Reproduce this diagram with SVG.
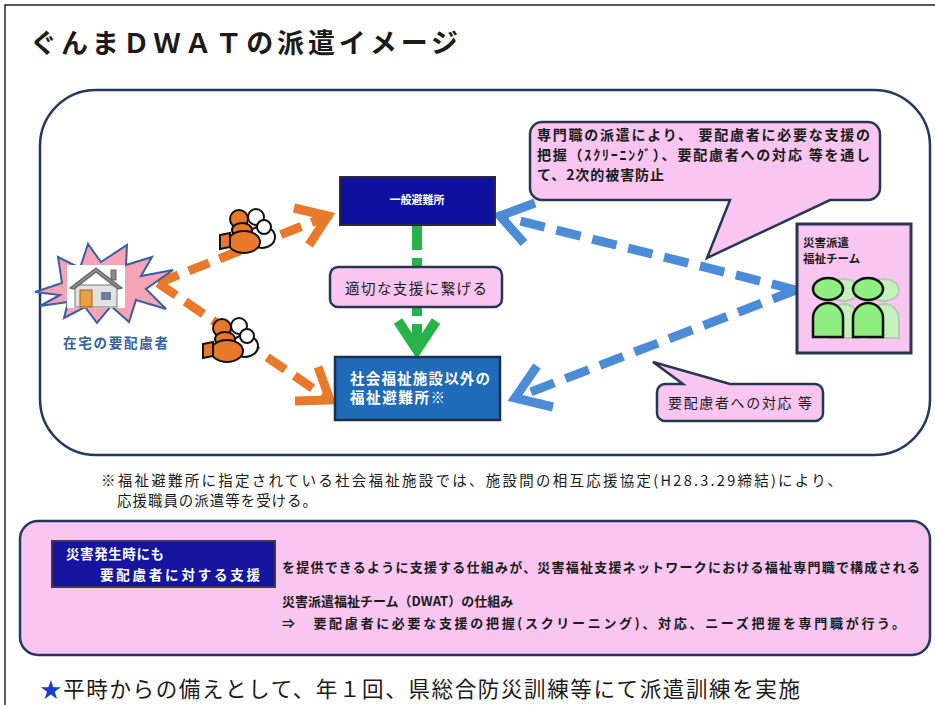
<svg xmlns="http://www.w3.org/2000/svg" width="935" height="705" viewBox="0 0 935 705">
  <style>
    .jp { font-family: "Noto Sans CJK JP", "Noto Sans", sans-serif; }
    .b { font-weight: bold; }
    .wt { fill: #ffffff; }
    .dk { fill: #1a1a1a; }
    .pink { fill: #f9c6f1; stroke: #26374f; stroke-width: 2.5; }
    .orange-dash { fill: none; stroke: #e8782a; stroke-width: 9; stroke-dasharray: 22 11; }
    .orange-head { fill: none; stroke: #e8782a; stroke-width: 9; stroke-linejoin: miter; }
    .blue-dash { fill: none; stroke: #4c8bd6; stroke-width: 9; stroke-dasharray: 25 12; }
    .blue-head { fill: none; stroke: #4c8bd6; stroke-width: 9; stroke-linejoin: miter; }
    .green-dash { fill: none; stroke: #27b24a; stroke-width: 10; stroke-dasharray: 25 8; }
    .green-head { fill: none; stroke: #27b24a; stroke-width: 10; stroke-linejoin: miter; }
    .p-or { fill: #e8782a; stroke: #111; stroke-width: 2; }
    .p-wh { fill: #ffffff; stroke: #111; stroke-width: 2; }
    .g-front { fill: #90ee80; stroke: #111; stroke-width: 2.5; }
    .g-back { fill: #c4f2bc; stroke: #b9c8b5; stroke-width: 2; }
  </style>
  <defs>
    <!-- small cluster of helpers heading to the shelters -->
    <g id="helpers">
      <circle cx="13" cy="-15" r="8" class="p-wh"/>
      <ellipse cx="19" cy="5" rx="13" ry="11" class="p-wh"/>
      <circle cx="21" cy="-5" r="7" class="p-wh"/>
      <circle cx="-4" cy="-13" r="9" class="p-or"/>
      <ellipse cx="-1" cy="-2" rx="10" ry="7" class="p-or"/>
      <ellipse cx="1" cy="10" rx="16" ry="11" class="p-or"/>
      <polygon points="-23,3 -13,1 -13,15 -23,17" class="p-or"/>
    </g>
    <!-- one standing team member -->
    <g id="member">
      <ellipse cx="0" cy="0" rx="15" ry="11"/>
      <path d="M-15,48 V29 A15,15 0 0 1 15,29 V48 Z"/>
    </g>
  </defs>

  <rect x="0" y="0" width="935" height="705" fill="#ffffff"/>
  <!-- page frame -->
  <rect x="5" y="5" width="945" height="720" fill="none" stroke="#222" stroke-width="1.5"/>

  <!-- title -->
  <text x="30" y="53" class="jp b dk" font-size="27" textLength="428" lengthAdjust="spacing">ぐんまＤＷＡＴの派遣イメージ</text>

  <!-- main area -->
  <rect x="40" y="90" width="890" height="365" rx="56" ry="56" fill="#ffffff" stroke="#23395d" stroke-width="2.5"/>

  <!-- connectors -->
  <g id="connectors">
    <!-- home to shelters -->
    <path d="M158,283 L328,216" class="orange-dash"/>
    <path d="M158,283 L330,400" class="orange-dash"/>
    <polyline points="294,208 328,216 309,245" class="orange-head"/>
    <polyline points="295,401 330,400 318,367" class="orange-head"/>
    <!-- general shelter to welfare shelter -->
    <path d="M417,225 L417,348" class="green-dash"/>
    <polyline points="398,321 417,350 436,321" class="green-head"/>
    <!-- team to shelters -->
    <path d="M796,290 L500,216" class="blue-dash"/>
    <path d="M796,290 L515,398" class="blue-dash"/>
    <polyline points="535,203 500,216 524,243" class="blue-head"/>
    <polyline points="537,366 515,398 553,407" class="blue-head"/>
  </g>

  <!-- home in need of support -->
  <g id="home">
    <polygon points="35,292 62,283 58,257 80,268 88,244 101,262 127,245 126,265 152,257 141,276 173,270 146,289 166,309 136,300 129,322 111,306 97,323 85,307 64,318 68,302 40,306 60,295" fill="#f6a5b6" stroke="#3a5fa0" stroke-width="2"/>
    <rect x="67" y="265" width="58" height="43" fill="#ffffff"/>
    <rect x="111" y="270" width="5" height="10" fill="#8a8a8a" stroke="#666" stroke-width="1"/>
    <rect x="75" y="285" width="42" height="22" fill="#e2e2e2" stroke="#8a8a8a" stroke-width="1.2"/>
    <polygon points="70,288 96,268 122,288 118,289 96,272 74,289" fill="#8a8a8a" stroke="#666" stroke-width="1.2"/>
    <rect x="80" y="290" width="12" height="17" fill="#e8a040" stroke="#a06020" stroke-width="1"/>
    <rect x="101" y="292" width="10" height="8" fill="#7080a0"/>
    <text x="63" y="348" class="jp b" font-size="13.5" fill="#355f9c" textLength="105" lengthAdjust="spacing">在宅の要配慮者</text>
  </g>

  <use href="#helpers" x="243" y="232"/>
  <use href="#helpers" x="226" y="341"/>

  <!-- general shelter -->
  <g id="general-shelter">
    <rect x="340" y="177" width="155" height="48" fill="#0f10a0" stroke="#2a2a3a" stroke-width="2"/>
    <text x="417" y="204" class="jp b wt" font-size="11" text-anchor="middle">一般避難所</text>
  </g>

  <!-- link label -->
  <g id="link-label">
    <rect x="330" y="267" width="172" height="40" rx="8" ry="8" class="pink"/>
    <text x="345" y="294" class="jp dk" font-size="14.5" textLength="142" lengthAdjust="spacing">適切な支援に繋げる</text>
  </g>

  <!-- welfare shelter -->
  <g id="welfare-shelter">
    <rect x="335" y="357" width="165" height="63" fill="#1f6bb8" stroke="#1d2f4a" stroke-width="2.5"/>
    <text x="350" y="384" class="jp b wt" font-size="14.5" textLength="140" lengthAdjust="spacing">社会福祉施設以外の</text>
    <text x="350" y="403" class="jp b wt" font-size="14.5" textLength="95" lengthAdjust="spacing">福祉避難所※</text>
  </g>

  <!-- callout: professional dispatch -->
  <g id="callout-dispatch">
    <path d="M542,122 H868 A12,12 0 0 1 880,134 V188 A12,12 0 0 1 868,200 H830 L707,258 L730,200 H542 A12,12 0 0 1 530,188 V134 A12,12 0 0 1 542,122 Z" class="pink"/>
    <text x="537" y="140" class="jp b dk" font-size="14" textLength="333" lengthAdjust="spacing">専門職の派遣により、 要配慮者に必要な支援の</text>
    <text x="537" y="160" class="jp b dk" font-size="14" textLength="333" lengthAdjust="spacing">把握（ｽｸﾘｰﾆﾝｸﾞ）、要配慮者への対応 等を通し</text>
    <text x="537" y="180" class="jp b dk" font-size="14" textLength="127" lengthAdjust="spacing">て、2次的被害防止</text>
  </g>

  <!-- disaster welfare team -->
  <g id="welfare-team">
    <rect x="797" y="224" width="114" height="129" fill="#f9c6f1" stroke="#26374f" stroke-width="3"/>
    <text x="803" y="247" class="jp b dk" font-size="11.5">災害派遣</text>
    <text x="803" y="263" class="jp b dk" font-size="11.5">福祉チーム</text>
    <use href="#member" x="844" y="290" class="g-back"/>
    <use href="#member" x="884" y="290" class="g-back"/>
    <use href="#member" x="828" y="289" class="g-front"/>
    <use href="#member" x="868" y="289" class="g-front"/>
  </g>

  <!-- callout: response -->
  <g id="callout-response">
    <path d="M665,384 H683 L653,362 L730,384 H815 A8,8 0 0 1 823,392 V413 A8,8 0 0 1 815,421 H665 A8,8 0 0 1 657,413 V392 A8,8 0 0 1 665,384 Z" class="pink"/>
    <text x="668" y="408" class="jp dk" font-size="14" textLength="144" lengthAdjust="spacing">要配慮者への対応 等</text>
  </g>

  <!-- footnote -->
  <text x="101" y="486" class="jp dk" font-size="14.5" textLength="741" lengthAdjust="spacing">※福祉避難所に指定されている社会福祉施設では、施設間の相互応援協定(H28.3.29締結)により、</text>
  <text x="117" y="506" class="jp dk" font-size="14.5" textLength="200" lengthAdjust="spacing">応援職員の派遣等を受ける。</text>

  <!-- support framework -->
  <g id="framework">
    <rect x="20" y="521" width="910" height="134" rx="18" ry="18" fill="#f9c6f1" stroke="#23395d" stroke-width="2.5"/>
    <rect x="52" y="541" width="223" height="46" fill="#1515a0" stroke="#3a3a4a" stroke-width="2"/>
    <text x="66" y="559" class="jp b wt" font-size="13.5" textLength="98" lengthAdjust="spacing">災害発生時にも</text>
    <text x="100" y="580" class="jp b wt" font-size="13.5" textLength="160" lengthAdjust="spacing">要配慮者に対する支援</text>
    <text x="282" y="572" class="jp b dk" font-size="13" textLength="638" lengthAdjust="spacing">を提供できるように支援する仕組みが、災害福祉支援ネットワークにおける福祉専門職で構成される</text>
    <text x="282" y="606" class="jp b dk" font-size="13">災害派遣福祉チーム（DWAT）の仕組み</text>
    <text x="282" y="628" class="jp b dk" font-size="13" textLength="623" lengthAdjust="spacing">⇒　要配慮者に必要な支援の把握(スクリーニング)、対応、ニーズ把握を専門職が行う。</text>
  </g>

  <!-- preparedness note -->
  <text x="40" y="697" class="jp dk" font-size="21.5" textLength="760" lengthAdjust="spacing"><tspan fill="#1a3fd0">★</tspan>平時からの備えとして、年１回、県総合防災訓練等にて派遣訓練を実施</text>
</svg>
